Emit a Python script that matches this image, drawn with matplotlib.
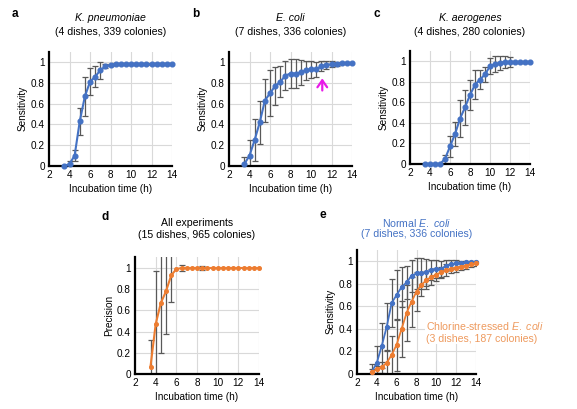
import numpy as np
import matplotlib
matplotlib.use("Agg")
import matplotlib.pyplot as plt

plt.rcParams['font.family'] = ['Liberation Sans', 'DejaVu Sans']

time = np.arange(3.5, 14.01, 0.5)

# a: K. pneumoniae
kp_mean = [0.0, 0.02, 0.10, 0.43, 0.67, 0.81, 0.86, 0.92, 0.96, 0.97, 0.98, 0.98,
           0.98, 0.98, 0.98, 0.98, 0.98, 0.98, 0.98, 0.98, 0.98, 0.98]
kp_err = [0.0, 0.03, 0.05, 0.13, 0.19, 0.13, 0.10, 0.08, 0.02, 0.01, 0.01, 0.01,
          0.01, 0.01, 0.01, 0.01, 0.01, 0.01, 0.01, 0.01, 0.01, 0.01]

# b: E. coli
ec_mean = [0.02, 0.10, 0.25, 0.42, 0.63, 0.70, 0.77, 0.81, 0.87, 0.89, 0.89, 0.90,
           0.92, 0.93, 0.93, 0.96, 0.97, 0.98, 0.98, 0.99, 0.99, 0.99]
ec_err = [0.07, 0.15, 0.20, 0.21, 0.21, 0.22, 0.18, 0.15, 0.14, 0.14, 0.14, 0.12,
          0.09, 0.08, 0.07, 0.05, 0.04, 0.03, 0.02, 0.01, 0.01, 0.01]

# c: K. aerogenes
ka_mean = [0.0, 0.0, 0.0, 0.0, 0.05, 0.17, 0.29, 0.44, 0.55, 0.67, 0.77, 0.82,
           0.87, 0.95, 0.97, 0.98, 0.99, 0.99, 0.99, 0.99, 0.99, 0.99]
ka_err = [0.0, 0.0, 0.0, 0.0, 0.04, 0.10, 0.12, 0.18, 0.17, 0.15, 0.14, 0.09,
          0.07, 0.08, 0.08, 0.07, 0.06, 0.05, 0.01, 0.01, 0.01, 0.01]

# d: precision, all experiments
pr_mean = [0.07, 0.47, 0.67, 0.78, 0.93, 0.99, 1.0, 1.0, 1.0, 1.0, 1.0, 1.0,
           1.0, 1.0, 1.0, 1.0, 1.0, 1.0, 1.0, 1.0, 1.0, 1.0]
pr_err = [0.25, 0.50, 0.47, 0.40, 0.25, 0.0, 0.03, 0.0, 0.0, 0.0, 0.02, 0.0,
          0.0, 0.0, 0.0, 0.0, 0.0, 0.0, 0.0, 0.0, 0.0, 0.0]

# e: chlorine-stressed E. coli
cl_mean = [0.02, 0.04, 0.06, 0.10, 0.17, 0.26, 0.40, 0.54, 0.64, 0.73, 0.79, 0.83,
           0.86, 0.88, 0.90, 0.92, 0.93, 0.94, 0.95, 0.96, 0.97, 0.98]
cl_err = [0.02, 0.03, 0.05, 0.10, 0.17, 0.23, 0.25, 0.25, 0.22, 0.17, 0.10, 0.08,
          0.07, 0.06, 0.05, 0.05, 0.04, 0.04, 0.03, 0.03, 0.02, 0.02]

arrow_x, arrow_y0, arrow_y1 = 11.1, 0.70, 0.87

BLUE = '#4472C4'
ORANGE = '#ED7D31'
ORANGE_TXT = '#EE9A5E'
ERR = '#595959'

W, H = 577, 409
fig = plt.figure(figsize=(W / 100, H / 100), dpi=100)

plt.rcParams['mathtext.fontset'] = 'custom'
plt.rcParams['mathtext.it'] = 'Liberation Sans:italic'
plt.rcParams['mathtext.rm'] = 'Liberation Sans'


def px_axes(l, r, b0, t0):
    return fig.add_axes([l / W, 1 - b0 / H, (r - l) / W, (b0 - t0) / H])


def style(ax, ylabel):
    ax.set_xlim(2, 14)
    ax.set_ylim(0, 1.1)
    ax.set_xticks(np.arange(2, 15, 2))
    ax.set_yticks(np.arange(0, 1.01, 0.2))
    ax.set_yticklabels(['0', '0.2', '0.4', '0.6', '0.8', '1'])
    ax.grid(True, color='#d9d9d9', linewidth=0.8)
    ax.set_axisbelow(True)
    for s in ['top', 'right']:
        ax.spines[s].set_visible(False)
    for s in ['left', 'bottom']:
        ax.spines[s].set_linewidth(1.6)
        ax.spines[s].set_color('black')
    ax.tick_params(length=0, labelsize=7.2, pad=3)
    ax.set_xlabel('Incubation time (h)', fontsize=7.2, labelpad=3)
    ax.set_ylabel(ylabel, fontsize=7.2, labelpad=2)


def series(ax, y, e, color, ms=3.4, lw=1.5, only_nonzero=False):
    y = np.array(y)
    e = np.array(e)
    if only_nonzero:
        m = e > 0
    else:
        m = np.ones_like(e, dtype=bool)
    ax.errorbar(time[m], y[m], yerr=e[m], fmt='none', ecolor=ERR,
                elinewidth=0.9, capsize=2.2, capthick=0.9, zorder=2, clip_on=True)
    ax.plot(time, y, '-o', color=color, lw=lw, ms=ms, zorder=3, clip_on=False)


def title(cx, y1, y2, parts1, line2, color='black'):
    if len(parts1) == 1:
        fig.text(cx / W, 1 - y1 / H, parts1[0][0], ha='center', va='center',
                 fontsize=7.6, style='italic' if parts1[0][1] else 'normal', color=color)
    else:
        s = ''.join(r'$\it{' + t.replace(' ', r'\ ') + '}$' if it else t for t, it in parts1)
        fig.text(cx / W, 1 - y1 / H, s, ha='center', va='center', fontsize=7.6, color=color)
    fig.text(cx / W, 1 - y2 / H, line2, ha='center', va='center', fontsize=7.6, color=color)


def letter(x, y, t):
    fig.text(x / W, 1 - y / H, t, ha='left', va='center', fontsize=8.5, fontweight='bold')


# Panel a
axa = px_axes(49, 172, 166, 51.7)
style(axa, 'Sensitivity')
series(axa, kp_mean, kp_err, BLUE)
letter(12, 14, 'a')
title(110.5, 18, 32, [('K. pneumoniae', True)], '(4 dishes, 339 colonies)')

# Panel b
axb = px_axes(229, 352, 166, 51.7)
style(axb, 'Sensitivity')
series(axb, ec_mean, ec_err, BLUE)
axb.annotate('', xy=(arrow_x, arrow_y1), xytext=(arrow_x, arrow_y0),
             arrowprops=dict(arrowstyle='->,head_length=0.5,head_width=0.35',
                             color='#E81AE8', lw=1.6, mutation_scale=10), zorder=5)
letter(192, 14, 'b')
title(290.5, 18, 32, [('E. coli', True)], '(7 dishes, 336 colonies)')

# Panel c
axc = px_axes(410, 530, 164, 50.7)
style(axc, 'Sensitivity')
series(axc, ka_mean, ka_err, BLUE)
letter(373, 14, 'c')
title(470, 18, 32, [('K. aerogenes', True)], '(4 dishes, 280 colonies)')

# Panel d
axd = px_axes(135, 259, 374, 257.4)
style(axd, 'Precision')
series(axd, pr_mean, pr_err, ORANGE, ms=2.6, only_nonzero=True)
letter(101, 217, 'd')
title(197, 223, 235, [('All experiments', False)], '(15 dishes, 965 colonies)')

# Panel e
axe = px_axes(357, 476, 374, 249.7)
style(axe, 'Sensitivity')
series(axe, ec_mean, ec_err, BLUE, ms=2.8, lw=1.3)
series(axe, cl_mean, cl_err, ORANGE, ms=2.8, lw=1.3)
letter(320, 215, 'e')
title(416.5, 223, 234, [('Normal ', False), ('E. coli', True)],
      '(7 dishes, 336 colonies)', color=BLUE)
fig.text(426 / W, 1 - 332 / H,
         'Chlorine-stressed $\\it{E.\\ coli}$\n(3 dishes, 187 colonies)',
         ha='left', va='center', fontsize=7.6, color=ORANGE_TXT, linespacing=1.15,
         bbox=dict(facecolor='white', edgecolor='none', pad=0.5), zorder=10)

fig.savefig('out.png', dpi=100)
